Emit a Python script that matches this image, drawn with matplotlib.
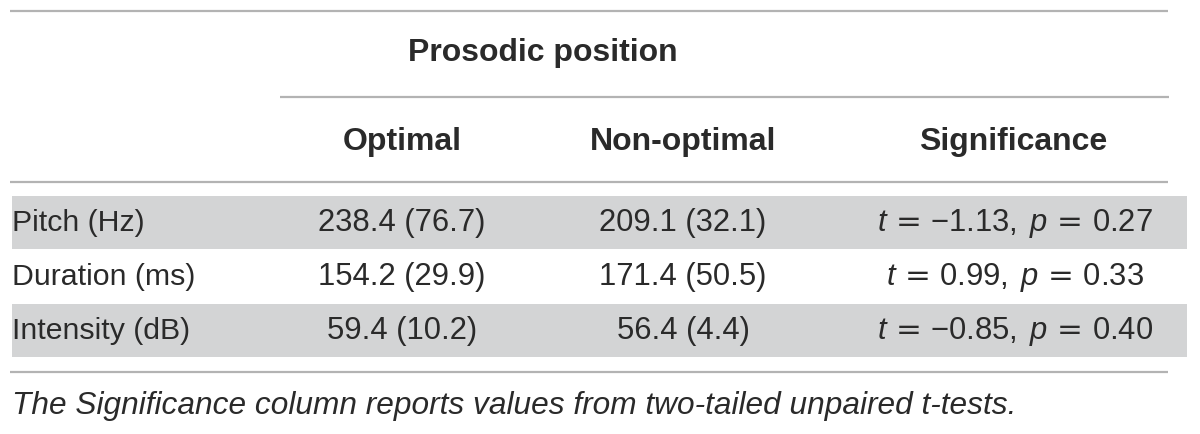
import matplotlib
matplotlib.use("Agg")
import matplotlib.pyplot as plt

# ---- data ----
group_header = "Prosodic position"
col_headers = ["Optimal", "Non-optimal", "Significance"]
row_labels = ["Pitch (Hz)", "Duration (ms)", "Intensity (dB)"]
optimal = ["238.4 (76.7)", "154.2 (29.9)", "59.4 (10.2)"]
non_optimal = ["209.1 (32.1)", "171.4 (50.5)", "56.4 (4.4)"]
t_values = ["\u22121.13", "0.99", "\u22120.85"]
p_values = ["0.27", "0.33", "0.40"]
caption = "The Significance column reports values from two-tailed unpaired t-tests."

plt.rcParams['mathtext.fontset'] = 'custom'
plt.rcParams['mathtext.rm'] = 'Liberation Sans'
plt.rcParams['mathtext.it'] = 'Liberation Sans:italic'
plt.rcParams['mathtext.sf'] = 'DejaVu Sans'

FONT = 'Liberation Sans'
TXT = '#2a2a2a'
LINE = '#b3b3b3'
SHADE = '#d3d4d5'
FS = 22.3
FSH = 23

fig = plt.figure(figsize=(12, 4.35), dpi=100)
ax = fig.add_axes([0, 0, 1, 1])
ax.set_xlim(0, 1200)
ax.set_ylim(435, 0)
ax.axis('off')

# rules
ax.hlines(12, 10, 1168, color=LINE, lw=1.6)
ax.hlines(97.5, 280, 1169, color=LINE, lw=1.6)
ax.hlines(183, 10, 1168, color=LINE, lw=1.6)
ax.hlines(373, 10, 1168, color=LINE, lw=1.6)

# row layout
row_top = [197, 251, 305]
row_h = 53
col_x = [402, 683, 1013]

for i, lab in enumerate(row_labels):
    if i % 2 == 0:
        ax.axhspan(row_top[i] + row_h, row_top[i], xmin=12 / 1200, xmax=1187 / 1200,
                   color=SHADE, lw=0)
    yc = row_top[i] + row_h / 2
    ax.text(12, yc, lab, fontsize=FS - 0.5, family=FONT, color=TXT, ha='left', va='center')
    ax.text(col_x[0], yc, optimal[i], fontsize=FS, family=FONT, color=TXT, ha='center', va='center')
    ax.text(col_x[1], yc, non_optimal[i], fontsize=FS, family=FONT, color=TXT, ha='center', va='center')
    sig = (r"$t\,\mathsf{=}\,\mathrm{" + t_values[i] + r",}\;p\,\mathsf{=}\,\mathrm{"
           + p_values[i] + "}$")
    ax.text(col_x[2] + 2, yc, sig, fontsize=FS, family=FONT, color=TXT, ha='center', va='center')

# headers
ax.text(543, 53, group_header, fontsize=FSH, family=FONT, weight='bold', color=TXT,
        ha='center', va='center')
for x, h in zip(col_x, col_headers):
    ax.text(x, 142, h, fontsize=FSH, family=FONT, weight='bold', color=TXT,
            ha='center', va='center')

ax.text(12, 406, caption, fontsize=FS + 0.5, family=FONT, style='italic', color=TXT,
        ha='left', va='center')

fig.savefig("out.png", dpi=100)
